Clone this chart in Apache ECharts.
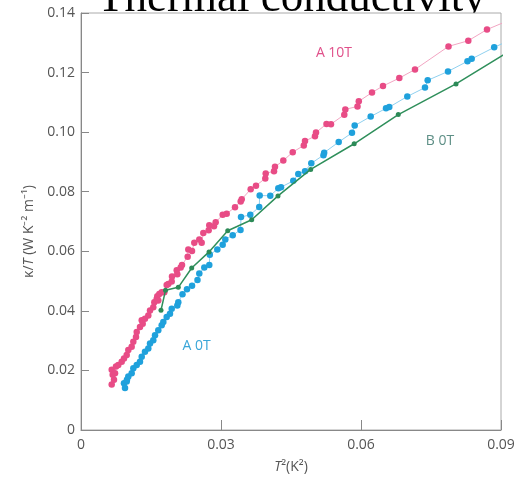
<!DOCTYPE html>
<html>
<head>
<meta charset="utf-8">
<script src="https://cdn.jsdelivr.net/npm/echarts@6/dist/echarts.min.js"></script>
<style>
  html, body { margin: 0; padding: 0; background: #fff; }
  #main { width: 518px; height: 479px; }
</style>
</head>
<body>
<div id="main"></div>
<script>
// A 10T (T^2 in K^2, kappa/T in W K^-2 m^-1)
var a10tT2 = [0.00658, 0.00658, 0.00679, 0.00707, 0.00729, 0.00750, 0.00799, 0.00872, 0.00921, 0.00979,
  0.01014, 0.01086, 0.01121, 0.01179, 0.01194, 0.01264, 0.01301, 0.01322, 0.01371, 0.01442,
  0.01479, 0.01549, 0.01571, 0.01622, 0.01635, 0.01656, 0.01678, 0.01729, 0.01785, 0.01836,
  0.01871, 0.01944, 0.01950, 0.02051, 0.02064, 0.02136, 0.02164, 0.02286, 0.02299, 0.02379,
  0.02428, 0.02535, 0.02586, 0.02621, 0.02736, 0.02749, 0.02850, 0.02886, 0.03036, 0.03122,
  0.03300, 0.03422, 0.03444, 0.03636, 0.03750, 0.03949, 0.03958, 0.04136, 0.04157, 0.04335,
  0.04537, 0.04774, 0.04800, 0.05014, 0.05036, 0.05261, 0.05357, 0.05642, 0.05664, 0.05925,
  0.05953, 0.06236, 0.06471, 0.06821, 0.07157, 0.07875, 0.08299, 0.08700, 0.09300];
var a10tK = [0.01530, 0.02019, 0.01852, 0.01686, 0.01905, 0.02128, 0.02185, 0.02295, 0.02404, 0.02517,
  0.02684, 0.02793, 0.02960, 0.03126, 0.03292, 0.03458, 0.03681, 0.03568, 0.03734, 0.03847,
  0.04014, 0.04123, 0.04290, 0.04399, 0.04489, 0.04346, 0.04566, 0.04622, 0.04622, 0.04865,
  0.04898, 0.04988, 0.05154, 0.05364, 0.05231, 0.05454, 0.05543, 0.05819, 0.06062, 0.06009,
  0.06285, 0.06395, 0.06285, 0.06618, 0.06707, 0.06873, 0.06840, 0.06973, 0.07226, 0.07259,
  0.07482, 0.07672, 0.07748, 0.08081, 0.08204, 0.08447, 0.08613, 0.08689, 0.08836, 0.09045,
  0.09328, 0.09554, 0.09700, 0.09866, 0.09986, 0.10275, 0.10269, 0.10585, 0.10764, 0.10864,
  0.11034, 0.11330, 0.11549, 0.11815, 0.12104, 0.12879, 0.13069, 0.13445, 0.13840];

// A 0T
var a0tT2 = [0.00921, 0.00943, 0.00979, 0.00985, 0.01014, 0.01086, 0.01121, 0.01194, 0.01264, 0.01301,
  0.01371, 0.01442, 0.01479, 0.01549, 0.01586, 0.01656, 0.01729, 0.01764, 0.01836, 0.01907,
  0.01944, 0.02064, 0.02085, 0.02175, 0.02271, 0.02379, 0.02496, 0.02535, 0.02642, 0.02749,
  0.02760, 0.02921, 0.03036, 0.03092, 0.03251, 0.03418, 0.03429, 0.03628, 0.03819, 0.03829,
  0.04056, 0.04228, 0.04286, 0.04549, 0.04656, 0.04800, 0.04935, 0.05196, 0.05211, 0.05522,
  0.05807, 0.05865, 0.06208, 0.06536, 0.06606, 0.06992, 0.07371, 0.07429, 0.07864, 0.08282,
  0.08372, 0.08854, 0.09300];
var a0tK = [0.01573, 0.01407, 0.01629, 0.01686, 0.01796, 0.01905, 0.02072, 0.02185, 0.02295, 0.02461,
  0.02627, 0.02737, 0.02903, 0.03016, 0.03182, 0.03349, 0.03515, 0.03625, 0.03791, 0.03901,
  0.04067, 0.04180, 0.04290, 0.04556, 0.04722, 0.04845, 0.05038, 0.05254, 0.05454, 0.05543,
  0.05886, 0.06062, 0.06218, 0.06395, 0.06541, 0.06717, 0.07150, 0.07226, 0.07489, 0.07871,
  0.07865, 0.08114, 0.08154, 0.08364, 0.08596, 0.08689, 0.08955, 0.09228, 0.09311, 0.09667,
  0.09976, 0.10219, 0.10525, 0.10798, 0.10841, 0.11197, 0.11496, 0.11739, 0.12038, 0.12380,
  0.12460, 0.12846, 0.13170];

// B 0T
var b0tT2 = [0.01714, 0.01811, 0.02085, 0.02372, 0.02743, 0.03144, 0.03658, 0.04221, 0.04922, 0.05854,
  0.06799, 0.08036, 0.09300];
var b0tK = [0.0402, 0.0469, 0.0479, 0.0544, 0.0598, 0.0669, 0.0706, 0.0786, 0.0875, 0.0961,
  0.1059, 0.1162, 0.1283];

var xTicks = [0, 0.03, 0.06, 0.09];
var yTicks = [0, 0.02, 0.04, 0.06, 0.08, 0.10, 0.12, 0.14];

function pairs(xs, ys) {
  return xs.map(function (x, i) { return [x, ys[i]]; });
}

var myChart = echarts.init(document.getElementById('main'));

var labelFont = { color: '#555', fontSize: 14, fontFamily: 'Open Sans' };

function tag(text, coord, color) {
  return {
    symbolSize: 0,
    label: { show: true, position: 'inside', formatter: text, color: color, fontSize: 14, fontFamily: 'Open Sans' },
    data: [{ coord: coord }]
  };
}

var option = {
  title: {
    text: 'Thermal conductivity',
    left: 97,
    top: -23,
    padding: 0,
    z: -1,
    textStyle: { fontFamily: 'Liberation Serif', fontSize: 45, fontWeight: 'normal', color: '#000' }
  },
  grid: {
    left: 81, right: 17, top: 13, bottom: 45,
    show: true, backgroundColor: '#fff', borderColor: '#aaa', borderWidth: 1
  },
  xAxis: {
    type: 'value',
    min: xTicks[0], max: xTicks[xTicks.length - 1], interval: 0.03,
    name: '{i|T}{a|²(K²)}',
    nameLocation: 'middle',
    nameGap: 30,
    nameTextStyle: {
      rich: {
        i: { fontStyle: 'italic', color: '#555', fontSize: 14, fontFamily: 'Open Sans' },
        a: { color: '#555', fontSize: 14, fontFamily: 'Open Sans' }
      }
    },
    axisLine: { lineStyle: { color: '#888' } },
    axisTick: { inside: true, length: 10, lineStyle: { color: '#888' } },
    axisLabel: Object.assign({ margin: 8, formatter: function (v) { return v === 0 ? '0' : v.toFixed(2); } }, labelFont),
    splitLine: { show: false }
  },
  yAxis: {
    type: 'value',
    min: yTicks[0], max: yTicks[yTicks.length - 1], interval: 0.02,
    name: '{a|κ/}{i|T}{a| (W K⁻² m⁻¹)}',
    nameLocation: 'middle',
    nameGap: 42,
    nameRotate: 90,
    nameTextStyle: {
      padding: [0, 20, 0, 0],
      rich: {
        i: { fontStyle: 'italic', color: '#555', fontSize: 14, fontFamily: 'Open Sans' },
        a: { color: '#555', fontSize: 14, fontFamily: 'Open Sans' }
      }
    },
    axisLine: { show: true, lineStyle: { color: '#888' } },
    axisTick: { show: true, inside: true, length: 8, lineStyle: { color: '#888' } },
    axisLabel: Object.assign({ margin: 6, formatter: function (v) { return v === 0 ? '0' : v.toFixed(2); } }, labelFont),
    splitLine: { show: false }
  },
  series: [
    {
      name: 'A 0T',
      type: 'line',
      data: pairs(a0tT2, a0tK),
      symbol: 'circle',
      symbolSize: 6.5,
      itemStyle: { color: '#1fa1dc' },
      lineStyle: { color: '#8fd0ef', width: 1 },
      markPoint: tag('A 0T', [0.02475, 0.0281], '#3aa6d8'),
      z: 3
    },
    {
      name: 'A 10T',
      type: 'line',
      data: pairs(a10tT2, a10tK),
      symbol: 'circle',
      symbolSize: 6.5,
      itemStyle: { color: '#e84c86' },
      lineStyle: { color: '#f2a5c2', width: 1 },
      markPoint: tag('A 10T', [0.05421, 0.1265], '#e0508a'),
      z: 2
    },
    {
      name: 'B 0T',
      type: 'line',
      data: pairs(b0tT2, b0tK),
      symbol: 'circle',
      symbolSize: 5,
      itemStyle: { color: '#2c8a57' },
      lineStyle: { color: '#2f8f5b', width: 1.5 },
      markPoint: tag('B 0T', [0.07693, 0.0969], '#5e8f86'),
      z: 4
    }
  ]
};

myChart.setOption(option);
</script>
</body>
</html>
